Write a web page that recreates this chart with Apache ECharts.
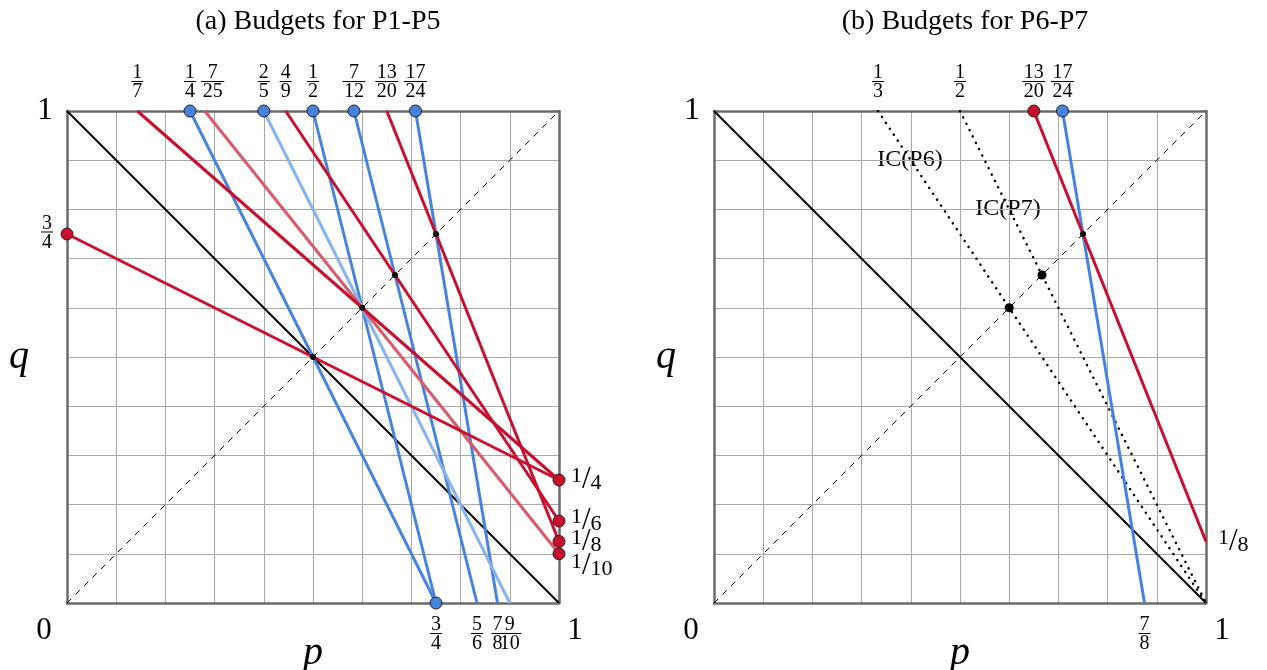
<!DOCTYPE html>
<html>
<head>
<meta charset="utf-8">
<script src="https://cdn.jsdelivr.net/npm/echarts@6/dist/echarts.min.js"></script>
<style>
html, body { margin: 0; padding: 0; background: #fff; }
#main { width: 1267px; height: 670px; }
</style>
</head>
<body>
<div id="main"></div>
<script>
// tick fractions [numerator, denominator]
// labels that touch each other sit on separate axes, else echarts drops one
var topA = [[1, 7], [1, 4], [7, 25], [2, 5], [4, 9], [1, 2], [7, 12], [13, 20], [17, 24]];
var bottomA = [[3, 4], [5, 6], [9, 10]];
var bottomExtraA = [[7, 8]];
var leftA = [[3, 4]];
var rightA = [[1, 4], [1, 8]];
var rightExtraA = [[1, 6]];
var rightExtra2A = [[1, 10]];
var topB = [[1, 3], [1, 2], [13, 20], [17, 24]];
var bottomB = [[7, 8]];
var rightB = [[1, 8]];

// budget lines as [p0, q0, p1, q1]
var redA = [[0, 3 / 4, 1, 1 / 4], [1 / 7, 1, 1, 1 / 4], [4 / 9, 1, 1, 1 / 6], [13 / 20, 1, 1, 1 / 8]];
var pinkA = [[7 / 25, 1, 1, 1 / 10]];
var blueA = [[1 / 4, 1, 3 / 4, 0], [1 / 2, 1, 3 / 4, 0], [7 / 12, 1, 5 / 6, 0], [17 / 24, 1, 7 / 8, 0]];
var lightBlueA = [[2 / 5, 1, 9 / 10, 0]];
var redDotsA = [[0, 3 / 4], [1, 1 / 4], [1, 1 / 6], [1, 1 / 8], [1, 1 / 10]];
var blueDotsA = [[1 / 4, 1], [2 / 5, 1], [1 / 2, 1], [7 / 12, 1], [17 / 24, 1], [3 / 4, 0]];
var crossA = [1 / 2, 3 / 5, 2 / 3, 3 / 4];

var redB = [[13 / 20, 1, 1, 1 / 8]];
var blueB = [[17 / 24, 1, 7 / 8, 0]];
var icB = [[1 / 3, 1, 1, 0], [1 / 2, 1, 1, 0]];
var redDotsB = [[13 / 20, 1]];
var blueDotsB = [[17 / 24, 1]];
var crossB = [3 / 5, 2 / 3];
var crossBSmall = [3 / 4];

var RED = '#c8102e', PINK = '#d95a6a', BLUE = '#4683e0', LIGHTBLUE = '#8ab2ec';
var FONT = 'Liberation Serif';
var NX = 3, NY = 4; // axes per grid

function val(f) { return f[0] / f[1]; }
function find(list, v) {
  for (var i = 0; i < list.length; i++) {
    if (Math.abs(val(list[i]) - v) < 1e-9) return list[i];
  }
  return null;
}

function stackedFmt(list) {
  return function (v) {
    var f = find(list, v);
    if (!f) return '';
    var wide = String(f[0]).length > 1 || String(f[1]).length > 1;
    var shift = (f[0] === 7 && f[1] === 25) ? '{sh|}' : '';
    return shift + '{n|' + f[0] + '}\n' + shift + '{' + (wide ? 'bw' : 'bn') + '|}\n' + shift + '{d|' + f[1] + '}';
  };
}
// 1/10 is pushed down a bit so it does not touch 1/8
function slantFmt(list) {
  return function (v) {
    var f = find(list, v);
    if (!f) return '';
    var s = '{u|' + f[0] + '}{s|/}{l|' + f[1] + '}';
    return f[1] === 10 ? '{gap|}\n' + s : s;
  };
}
var stackRich = {
  n: { fontFamily: FONT, fontSize: 20, lineHeight: 14, color: '#000', align: 'center' },
  bn: { width: 12, height: 1, lineHeight: 3, backgroundColor: '#000', align: 'center' },
  bw: { width: 23, height: 1, lineHeight: 3, backgroundColor: '#000', align: 'center' },
  d: { fontFamily: FONT, fontSize: 20, lineHeight: 18, color: '#000', align: 'center' },
  sh: { width: 16, height: 1 }
};
var slantRich = {
  u: { fontFamily: FONT, fontSize: 22, color: '#000', verticalAlign: 'top', lineHeight: 29 },
  s: { fontFamily: FONT, fontSize: 31, color: '#000', lineHeight: 29 },
  l: { fontFamily: FONT, fontSize: 22, color: '#000', verticalAlign: 'bottom', lineHeight: 29 },
  gap: { height: 24, lineHeight: 24 }
};

function segs(list, color, width, grid, extra) {
  return list.map(function (s) {
    var ls = { color: color, width: width };
    if (extra) for (var k in extra) ls[k] = extra[k];
    return {
      type: 'line', xAxisIndex: grid * NX, yAxisIndex: grid * NY,
      data: [[s[0], s[1]], [s[2], s[3]]],
      showSymbol: false, symbol: 'none', silent: true,
      lineStyle: ls, z: 3
    };
  });
}
function dots(list, color, size, grid, border) {
  return {
    type: 'scatter', xAxisIndex: grid * NX, yAxisIndex: grid * NY,
    data: list, symbolSize: size, silent: true, z: 6,
    itemStyle: { color: color, borderColor: border ? '#222' : color, borderWidth: border ? 1 : 0, opacity: 1 }
  };
}
function diagDots(list, size, grid) {
  return dots(list.map(function (v) { return [v, v]; }), '#000', size, grid, false);
}

var frame = { show: true, onZero: false, lineStyle: { color: '#6b6b6b', width: 2.5 } };
var noLine = { show: false };
var gridLine = { show: true, lineStyle: { color: '#a8a8a8', width: 1 } };
var labelBase = { interval: 0, hideOverlap: false, showMinLabel: true, showMaxLabel: true };

function axisBase(grid) {
  return { type: 'value', min: 0, max: 1, interval: 0.1, gridIndex: grid, axisTick: { show: false } };
}
function labelAxis(grid, position, list, margin, fmt, rich) {
  return Object.assign(axisBase(grid), {
    position: position, axisLine: noLine, splitLine: noLine,
    axisLabel: Object.assign({ show: list.length > 0, margin: margin, customValues: list.map(val), formatter: fmt(list), rich: rich }, labelBase)
  });
}

function xAxes(grid, bottomList, topList, extraList) {
  return [
    Object.assign(axisBase(grid), {
      position: 'bottom',
      name: 'p', nameLocation: 'middle', nameGap: 30, nameMoveOverlap: false,
      nameTextStyle: { fontFamily: FONT, fontStyle: 'italic', fontSize: 40, color: '#000' },
      axisLine: frame, splitLine: gridLine,
      axisLabel: Object.assign({ margin: 15, customValues: bottomList.map(val), formatter: stackedFmt(bottomList), rich: stackRich }, labelBase)
    }),
    Object.assign(axisBase(grid), {
      position: 'top',
      axisLine: frame, splitLine: noLine,
      axisLabel: Object.assign({ margin: 10, customValues: topList.map(val), formatter: stackedFmt(topList), rich: stackRich }, labelBase)
    }),
    labelAxis(grid, 'bottom', extraList, 15, stackedFmt, stackRich)
  ];
}
function yAxes(grid, leftList, rightList, extraList, extra2List) {
  var left = leftList.concat([[1, 1]]);
  return [
    Object.assign(axisBase(grid), {
      position: 'left',
      name: 'q', nameLocation: 'middle', nameGap: 38, nameRotate: 0, nameMoveOverlap: false,
      nameTextStyle: { fontFamily: FONT, fontStyle: 'italic', fontSize: 40, color: '#000' },
      axisLine: frame, splitLine: gridLine,
      axisLabel: Object.assign({
        margin: 14, customValues: left.map(val),
        formatter: function (v) { return v === 1 ? '{one|1}' : stackedFmt(leftList)(v); },
        rich: Object.assign({ one: { fontFamily: FONT, fontSize: 32, color: '#000' } }, stackRich)
      }, labelBase)
    }),
    Object.assign(axisBase(grid), {
      position: 'right',
      axisLine: frame, splitLine: noLine,
      axisLabel: Object.assign({ margin: 12, customValues: rightList.map(val), formatter: slantFmt(rightList), rich: slantRich }, labelBase)
    }),
    labelAxis(grid, 'right', extraList, 12, slantFmt, slantRich),
    labelAxis(grid, 'right', extra2List, 12, slantFmt, slantRich)
  ];
}

var series = [];
[0, 1].forEach(function (g) {
  series = series.concat(segs([[0, 1, 1, 0]], '#000', 2, g));
  series = series.concat(segs([[0, 0, 1, 1]], '#000', 1, g, { type: [6, 6] }));
});
series = series.concat(segs(blueA, BLUE, 3, 0));
series = series.concat(segs(lightBlueA, LIGHTBLUE, 3, 0));
series = series.concat(segs(pinkA, PINK, 3, 0));
series = series.concat(segs(redA, RED, 3, 0));
series.push(diagDots(crossA, 6, 0));
series.push(dots(redDotsA, RED, 12, 0, true));
series.push(dots(blueDotsA, BLUE, 12, 0, true));

series = series.concat(segs(icB, '#000', 2.5, 1, { type: [0.1, 7], cap: 'round' }));
series = series.concat(segs(blueB, BLUE, 3, 1));
series = series.concat(segs(redB, RED, 3, 1));
series.push(diagDots(crossB, 9, 1));
series.push(diagDots(crossBSmall, 6, 1));
series.push(dots(redDotsB, RED, 12, 1, true));
series.push(dots(blueDotsB, BLUE, 12, 1, true));

var corner = '31px "Liberation Serif"';
var chart = echarts.init(document.getElementById('main'));
chart.setOption({
  animation: false,
  backgroundColor: '#fff',
  title: [
    { text: '(a) Budgets for P1-P5', left: 313, top: 3, textAlign: 'center',
      textStyle: { fontFamily: FONT, fontWeight: 'normal', fontSize: 28, color: '#000' } },
    { text: '(b) Budgets for P6-P7', left: 960, top: 3, textAlign: 'center',
      textStyle: { fontFamily: FONT, fontWeight: 'normal', fontSize: 28, color: '#000' } }
  ],
  grid: [
    { left: 67, top: 111, width: 492, height: 492, containLabel: false, outerBoundsMode: 'none' },
    { left: 714, top: 111, width: 492, height: 492, containLabel: false, outerBoundsMode: 'none' }
  ],
  xAxis: xAxes(0, bottomA, topA, bottomExtraA).concat(xAxes(1, bottomB, topB, [])),
  yAxis: yAxes(0, leftA, rightA, rightExtraA, rightExtra2A).concat(yAxes(1, [], rightB, [], [])),
  graphic: [
    { type: 'text', x: 44, y: 631, style: { text: '0', font: corner, fill: '#000', align: 'center', verticalAlign: 'middle' } },
    { type: 'text', x: 575, y: 631, style: { text: '1', font: corner, fill: '#000', align: 'center', verticalAlign: 'middle' } },
    { type: 'text', x: 691, y: 631, style: { text: '0', font: corner, fill: '#000', align: 'center', verticalAlign: 'middle' } },
    { type: 'text', x: 1222, y: 631, style: { text: '1', font: corner, fill: '#000', align: 'center', verticalAlign: 'middle' } },
    { type: 'text', x: 910, y: 160, style: { text: 'IC(P6)', font: '24px "Liberation Serif"', fill: '#000', align: 'center', verticalAlign: 'middle' } },
    { type: 'text', x: 1008, y: 209, style: { text: 'IC(P7)', font: '24px "Liberation Serif"', fill: '#000', align: 'center', verticalAlign: 'middle' } }
  ],
  series: series
});
</script>
</body>
</html>
